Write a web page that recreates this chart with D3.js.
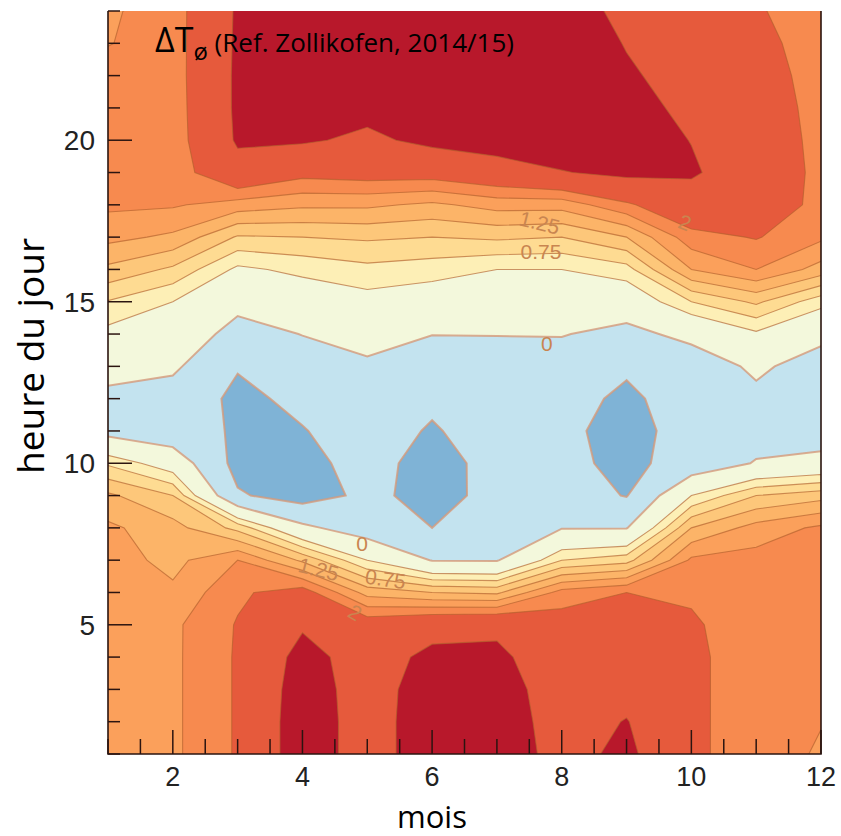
<!DOCTYPE html>
<html><head><meta charset="utf-8">
<script src="https://cdn.jsdelivr.net/npm/d3@7"></script>
<style>body{margin:0;background:#fff} svg{display:block}</style>
</head><body>
<svg id="chart" width="841" height="836"></svg>
<script>
// ΔT (K) per month column, hours 1..24 (bottom to top)
const months = [1,2,3,4,5,6,7,8,9,10,11,12];
const hours = d3.range(1, 25);
const dT_m01 = [1.65,1.65,1.65,1.65,1.65,1.65,1.62,1.55,1.30,0.71,-0.15,-0.10,0.15,0.41,0.735,1.19,1.575,1.80,1.85,1.85,1.85,1.85,1.74,1.72];
const dT_m02 = [1.70,1.70,1.70,1.70,1.70,1.55,1.42,1.35,1.00,0.30,-0.30,-0.20,0.08,0.29,0.50,0.95,1.45,1.78,1.82,1.83,1.84,1.85,1.85,1.85];
const dT_m03 = [2.03,2.03,2.03,2.03,2.02,1.95,1.75,0.92,-0.45,-0.65,-0.55,-0.60,-0.47,-0.15,0.12,0.44,0.97,1.64,2.35,2.55,2.57,2.57,2.56,2.55];
const dT_m04 = [2.75,2.75,2.72,2.65,2.45,2.15,1.20,0.10,-0.70,-0.62,-0.52,-0.40,-0.20,0.01,0.275,0.57,1.00,1.55,2.10,2.55,2.68,2.72,2.72,2.70];
const dT_m05 = [2.30,2.30,2.30,2.30,2.20,1.40,0.50,-0.25,-0.40,-0.35,-0.30,-0.25,-0.07,0.16,0.39,0.68,1.04,1.55,2.15,2.42,2.62,2.70,2.72,2.72];
const dT_m06 = [2.75,2.75,2.72,2.60,2.35,1.25,-0.02,-0.50,-0.64,-0.66,-0.54,-0.42,-0.25,0.01,0.30,0.62,1.00,1.45,2.15,2.60,2.72,2.75,2.75,2.75];
const dT_m07 = [2.75,2.75,2.72,2.60,2.40,1.20,-0.03,-0.30,-0.38,-0.36,-0.30,-0.25,-0.15,0.01,0.22,0.50,1.05,1.60,2.30,2.70,2.78,2.80,2.80,2.80];
const dT_m08 = [2.35,2.30,2.25,2.20,2.15,1.85,0.75,-0.02,-0.30,-0.38,-0.42,-0.35,-0.20,0.02,0.25,0.50,1.00,1.60,2.48,2.75,2.80,2.80,2.75,2.65];
const dT_m09 = [2.60,2.52,2.35,2.25,2.15,2.00,0.90,-0.02,-0.52,-0.62,-0.63,-0.58,-0.44,-0.12,0.23,0.65,1.25,1.95,2.60,2.70,2.65,2.55,2.48,2.42];
const dT_m10 = [2.05,2.05,2.05,2.05,2.03,1.97,1.80,1.25,0.50,-0.30,-0.35,-0.30,-0.25,0.12,0.75,1.50,1.90,2.30,2.55,2.49,2.40,2.35,2.30,2.25];
const dT_m11 = [1.88,1.88,1.88,1.88,1.88,1.88,1.85,1.60,1.00,0.03,-0.20,-0.10,0.08,0.45,1.05,1.75,2.02,2.20,2.25,2.22,2.18,2.12,2.08,2.03];
const dT_m12 = [1.72,1.76,1.85,1.85,1.85,1.85,1.85,1.80,1.15,0.15,-0.25,-0.30,-0.20,0.12,0.60,1.40,1.80,1.92,1.92,1.91,1.90,1.90,1.88,1.85];
const columns = [dT_m01,dT_m02,dT_m03,dT_m04,dT_m05,dT_m06,dT_m07,dT_m08,dT_m09,dT_m10,dT_m11,dT_m12];

const levels = [-0.5, 0, 0.5, 0.75, 1, 1.25, 1.5, 1.75, 2, 2.5];
const bandColors = ["#7fb3d6","#c3e3ef","#f3f8dc","#fdefb6","#fedb92","#fdc77a","#fcb468","#fba05b","#f78a4f","#e65a3c","#b8182b"];
const xTicks = [2,4,6,8,10,12];
const yTicks = [5,10,15,20];
// contour label annotations: text, month, hour, rotation
const contourLabels = [
  {t:"1.25", m:7.66, h:17.45, r:14},
  {t:"0.75", m:7.68, h:16.55, r:0},
  {t:"2",    m:9.9,  h:17.45, r:22},
  {t:"0",    m:7.77, h:13.72, r:0},
  {t:"0",    m:4.92, h:7.53,  r:0},
  {t:"1.25", m:4.25, h:6.72,  r:14},
  {t:"0.75", m:5.28, h:6.42,  r:8},
  {t:"2",    m:4.81, h:5.38,  r:30}
];

const svg = d3.select("#chart");
const x = d3.scaleLinear().domain([1,12]).range([108, 821]);
const y = d3.scaleLinear().domain([1,24]).range([754, 11]);

const nx = months.length, ny = hours.length;
const grid = new Array(nx*ny);
for (let j=0;j<ny;j++) for (let i=0;i<nx;i++) grid[i + j*nx] = columns[i][j];

const contours = d3.contours().size([nx, ny]).thresholds(levels)(grid);
const proj = d3.geoTransform({point: function(c, r){ this.stream.point(x(c + 0.5), y(r + 0.5)); }});
const path = d3.geoPath(proj);

svg.append("clipPath").attr("id","plotclip").append("rect")
  .attr("x", x(1)).attr("y", y(24)).attr("width", x(12)-x(1)).attr("height", y(1)-y(24));

const g = svg.append("g").attr("clip-path","url(#plotclip)");
g.append("rect").attr("x", x(1)).attr("y", y(24)).attr("width", x(12)-x(1)).attr("height", y(1)-y(24))
  .attr("fill", bandColors[0]);
g.selectAll("path.band").data(contours).join("path").attr("class","band")
  .attr("d", path).attr("fill", (d,i)=>bandColors[i+1]).attr("stroke","none");
g.selectAll("path.line").data(contours).join("path").attr("class","line")
  .attr("d", path).attr("fill","none")
  .attr("stroke", d => d.value <= 0 ? "#d49a7a" : "#b0602c")
  .attr("stroke-opacity", d => d.value <= 0 ? 0.8 : 0.65)
  .attr("stroke-width", d => d.value <= 0 ? 2 : 1.1);

g.selectAll("text.cl").data(contourLabels).join("text").attr("class","cl")
  .attr("transform", d => `translate(${x(d.m)},${y(d.h)}) rotate(${d.r})`)
  .attr("text-anchor","middle").attr("dominant-baseline","central")
  .attr("font-family","Liberation Sans, Arial, sans-serif").attr("font-size",21)
  .attr("fill","#c98550").text(d=>d.t);

// ticks
const tickColor = "#2b1410";
const xMinor = d3.range(1, 12.01, 0.5);
svg.selectAll("line.xt").data(xMinor).join("line").attr("class","xt")
  .attr("x1", d=>x(d)).attr("x2", d=>x(d))
  .attr("y1", y(1)).attr("y2", d => y(1) - (xTicks.includes(d) ? 24 : 15))
  .attr("stroke", tickColor).attr("stroke-width", 1.5);
svg.selectAll("line.yt").data(hours).join("line").attr("class","yt")
  .attr("x1", x(1)).attr("x2", d => x(1) + (yTicks.includes(d) ? 24 : 12))
  .attr("y1", d=>y(d)).attr("y2", d=>y(d))
  .attr("stroke", tickColor).attr("stroke-width", 1.5);

svg.append("path")
  .attr("d", `M${x(1)},${y(24)}V${y(1)}H${x(12)}V${y(24)}`)
  .attr("fill","none").attr("stroke", tickColor).attr("stroke-width", 1.6);

svg.selectAll("text.xl").data(xTicks).join("text").attr("class","xl")
  .attr("x", d=>x(d)).attr("y", y(1) + 32).attr("text-anchor","middle")
  .attr("font-family","Liberation Sans, Arial, sans-serif").attr("font-size",27).attr("fill","#222")
  .text(d=>d);
svg.selectAll("text.yl").data(yTicks).join("text").attr("class","yl")
  .attr("x", x(1) - 13).attr("y", d=>y(d)).attr("dy","0.36em").attr("text-anchor","end")
  .attr("font-family","Liberation Sans, Arial, sans-serif").attr("font-size",28).attr("fill","#222")
  .text(d=>d);

svg.append("text").attr("x", 432).attr("y", 828).attr("text-anchor","middle")
  .attr("font-family","Open Sans, sans-serif").attr("font-size",31).attr("fill","#000").text("mois");
svg.append("text").attr("transform", "translate(44,356) rotate(-90)").attr("text-anchor","middle")
  .attr("font-family","Open Sans, sans-serif").attr("font-size",37).attr("fill","#000").text("heure du jour");

const title = svg.append("text").attr("x", 155).attr("y", 52)
  .attr("font-family","Open Sans, sans-serif").attr("fill","#000");
title.append("tspan").attr("font-size",34).text("ΔT");
title.append("tspan").attr("font-size",24).attr("dy", 8).text("ø");
title.append("tspan").attr("font-size",26).attr("dy", -8).text(" (Ref. Zollikofen, 2014/15)");
</script>
</body></html>
